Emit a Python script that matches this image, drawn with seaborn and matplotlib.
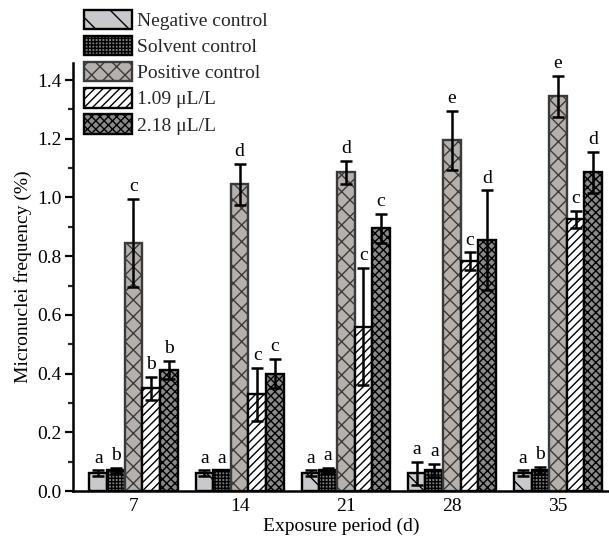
import numpy as np
import pandas as pd
import matplotlib
matplotlib.use("Agg")
import matplotlib.pyplot as plt
import matplotlib.patches as mpatches
from matplotlib.ticker import MultipleLocator
import seaborn as sns

# Exposure periods (days) and treatment groups
periods = ["7", "14", "21", "28", "35"]
groups = ["Negative control", "Solvent control", "Positive control",
          "1.09 \u03bcL/L", "2.18 \u03bcL/L"]

# Mean micronuclei frequency (%) per group, one value per period
neg_mean = [0.06, 0.06, 0.06, 0.06, 0.06]
sol_mean = [0.07, 0.07, 0.07, 0.07, 0.07]
pos_mean = [0.845, 1.045, 1.085, 1.195, 1.345]
low_mean = [0.35, 0.33, 0.56, 0.783, 0.925]
high_mean = [0.413, 0.40, 0.895, 0.855, 1.085]

# Standard deviations
neg_sd = [0.01, 0.01, 0.01, 0.04, 0.01]
sol_sd = [0.01, 0.0, 0.01, 0.022, 0.012]
pos_sd = [0.15, 0.07, 0.04, 0.10, 0.07]
low_sd = [0.04, 0.09, 0.20, 0.03, 0.03]
high_sd = [0.03, 0.05, 0.05, 0.17, 0.07]

# Significance letters
neg_sig = ["a", "a", "a", "a", "a"]
sol_sig = ["b", "a", "a", "a", "b"]
pos_sig = ["c", "d", "d", "e", "e"]
low_sig = ["b", "c", "c", "c", "c"]
high_sig = ["b", "c", "c", "d", "d"]

means = [neg_mean, sol_mean, pos_mean, low_mean, high_mean]
sds = [neg_sd, sol_sd, pos_sd, low_sd, high_sd]
sigs = [neg_sig, sol_sig, pos_sig, low_sig, high_sig]

df = pd.DataFrame({
    "period": [p for g in groups for p in periods],
    "group": [g for g in groups for _ in periods],
    "value": [v for m in means for v in m],
})

# Bar styles: face colour, hatch, edge colour
styles = {
    "Negative control": dict(facecolor="#c9c9cd", hatch="\\", edgecolor="black"),
    "Solvent control": dict(facecolor="#7c7c7c", hatch="+++++", edgecolor="black"),
    "Positive control": dict(facecolor="#b6b0ac", hatch="xx", edgecolor="#3a3a3a"),
    "1.09 \u03bcL/L": dict(facecolor="white", hatch="////", edgecolor="black"),
    "2.18 \u03bcL/L": dict(facecolor="#8a8a8a", hatch="xxxx", edgecolor="black"),
}

sns.set_theme(style="ticks")
plt.rcParams["font.family"] = ["Liberation Serif", "DejaVu Serif"]
plt.rcParams["hatch.linewidth"] = 1.0

W, H = 609, 536
fig = plt.figure(figsize=(W / 100, H / 100), dpi=100)
ax = fig.add_axes([73 / W, 1 - 491 / H, 1 - 73 / W, (491 - 63) / H])

sns.barplot(data=df, x="period", y="value", hue="group", order=periods,
            hue_order=groups, errorbar=None, width=0.83, gap=0,
            legend=False, ax=ax)

bar_containers = list(ax.containers)
for gi, cont in enumerate(bar_containers):
    st = styles[groups[gi]]
    for bi, bar in enumerate(cont):
        bar.set_facecolor(st["facecolor"])
        bar.set_hatch(st["hatch"])
        bar.set_edgecolor(st["edgecolor"])
        bar.set_linewidth(1.7)
        xc = bar.get_x() + bar.get_width() / 2
        m = means[gi][bi]
        s = sds[gi][bi]
        ax.errorbar(xc, m, yerr=s, fmt="none", ecolor="black",
                    elinewidth=1.8, capsize=4, capthick=1.8, zorder=5)
        ax.text(xc, m + s + 0.012, sigs[gi][bi], ha="center", va="bottom",
                fontsize=14, color="black")

ax.set_ylim(0, 1.458)
ax.set_xlim(-0.57, 4.48)
ax.yaxis.set_major_locator(MultipleLocator(0.2))
ax.yaxis.set_minor_locator(MultipleLocator(0.1))
ax.yaxis.set_major_formatter(plt.FuncFormatter(lambda v, _: f"{v:.1f}"))
ax.tick_params(axis="y", which="major", direction="out", length=6, width=1.6,
               labelsize=14, pad=2, colors="black")
ax.tick_params(axis="y", which="minor", direction="out", length=3.5, width=1.6)
ax.tick_params(axis="x", length=0, labelsize=14, pad=5, colors="black")

sns.despine(ax=ax)
for sp in ("left", "bottom"):
    ax.spines[sp].set_linewidth(1.8)
    ax.spines[sp].set_color("black")

ax.set_xlabel("Exposure period (d)", fontsize=14, labelpad=2, color="black")
ax.set_ylabel("Micronuclei frequency (%)", fontsize=14, labelpad=4, color="black")

handles = [mpatches.Patch(facecolor=styles[g]["facecolor"], hatch=styles[g]["hatch"],
                          edgecolor=styles[g]["edgecolor"], linewidth=1.7, label=g)
           for g in groups]
fig.legend(handles=handles, loc="upper left", bbox_to_anchor=(84 / W, 1 - 10 / H),
           frameon=False, fontsize=14, handlelength=2.45, handleheight=1.15,
           handletextpad=0.3, labelspacing=0.3, borderpad=0, borderaxespad=0)

fig.savefig("out.png", dpi=100)
